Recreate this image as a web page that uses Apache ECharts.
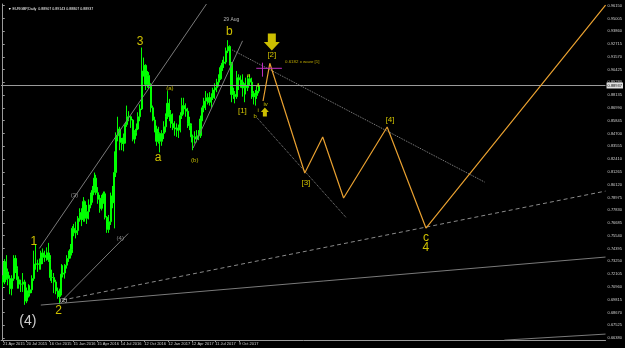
<!DOCTYPE html>
<html><head><meta charset="utf-8">
<script src="https://cdn.jsdelivr.net/npm/echarts@6/dist/echarts.min.js"></script>
<style>html,body{margin:0;padding:0;background:#000;}#c{width:625px;height:348px;}</style>
</head><body><div id="c"></div><script>
// Weekly OHLC, week 0 = 20 Apr 2015. [open, close, low, high]
const candles = [
[0.7170,0.7140,0.7090,0.7200],[0.7140,0.7320,0.7120,0.7345],[0.7320,0.7230,0.7160,0.7380],[0.7230,0.7170,0.7110,0.7260],
[0.7170,0.7080,0.7030,0.7200],[0.7080,0.7170,0.7020,0.7200],[0.7170,0.7350,0.7150,0.7380],[0.7350,0.7260,0.7220,0.7380],
[0.7260,0.7160,0.7080,0.7280],[0.7160,0.7120,0.7080,0.7190],[0.7120,0.7120,0.7050,0.7160],[0.7120,0.7140,0.7050,0.7220],
[0.7140,0.6970,0.6935,0.7160],[0.6970,0.7060,0.6950,0.7090],[0.7060,0.7040,0.7000,0.7120],[0.7040,0.7070,0.7010,0.7110],
[0.7070,0.7170,0.7040,0.7200],[0.7170,0.7300,0.7150,0.7420],[0.7300,0.7300,0.7250,0.7480],[0.7300,0.7300,0.7230,0.7340],
[0.7300,0.7300,0.7250,0.7350],[0.7300,0.7400,0.7250,0.7420],[0.7400,0.7360,0.7300,0.7440],[0.7360,0.7380,0.7320,0.7420],
[0.7380,0.7400,0.7330,0.7450],[0.7400,0.7340,0.7320,0.7490],[0.7340,0.7180,0.7150,0.7380],[0.7180,0.7180,0.7130,0.7250],
[0.7180,0.7140,0.7040,0.7220],[0.7140,0.7060,0.7030,0.7160],[0.7060,0.7010,0.6990,0.7090],[0.7010,0.7040,0.6940,0.7080],
[0.7040,0.7210,0.7020,0.7300],[0.7210,0.7220,0.7180,0.7290],[0.7220,0.7290,0.7170,0.7300],[0.7290,0.7350,0.7260,0.7380],
[0.7350,0.7380,0.7320,0.7420],[0.7380,0.7430,0.7350,0.7480],[0.7430,0.7620,0.7400,0.7640],[0.7620,0.7580,0.7550,0.7660],
[0.7580,0.7600,0.7530,0.7680],[0.7600,0.7710,0.7560,0.7730],[0.7710,0.7760,0.7680,0.7800],[0.7760,0.7700,0.7640,0.7800],
[0.7700,0.7860,0.7680,0.7900],[0.7860,0.7710,0.7680,0.7870],[0.7710,0.7770,0.7660,0.7830],[0.7770,0.7830,0.7700,0.7880],
[0.7830,0.7920,0.7800,0.7940],[0.7920,0.7960,0.7850,0.8000],[0.7960,0.8070,0.7940,0.8120],[0.8070,0.7940,0.7920,0.8100],
[0.7940,0.7880,0.7840,0.7990],[0.7880,0.7800,0.7760,0.7920],[0.7800,0.7890,0.7780,0.7920],[0.7890,0.7930,0.7840,0.7950],
[0.7930,0.7720,0.7700,0.7950],[0.7720,0.7610,0.7580,0.7730],[0.7610,0.7680,0.7580,0.7740],[0.7680,0.7910,0.7650,0.7940],
[0.7910,0.7850,0.7800,0.8000],[0.7850,0.8120,0.7620,0.8310],[0.8120,0.8450,0.8080,0.8480],[0.8450,0.8510,0.8400,0.8620],
[0.8510,0.8390,0.8320,0.8530],[0.8390,0.8380,0.8320,0.8430],[0.8380,0.8430,0.8310,0.8470],[0.8430,0.8550,0.8380,0.8570],
[0.8550,0.8620,0.8530,0.8720],[0.8620,0.8620,0.8580,0.8670],[0.8620,0.8590,0.8520,0.8630],[0.8590,0.8420,0.8400,0.8600],
[0.8420,0.8480,0.8380,0.8500],[0.8480,0.8510,0.8450,0.8560],[0.8510,0.8620,0.8500,0.8660],[0.8620,0.8690,0.8580,0.8730],
[0.8690,0.9030,0.8680,0.9240],[0.9030,0.9080,0.8980,0.9150],[0.9080,0.8910,0.8860,0.9090],[0.8910,0.8990,0.8880,0.9030],
[0.8990,0.8900,0.8870,0.9020],[0.8900,0.8700,0.8660,0.8920],[0.8700,0.8590,0.8580,0.8720],[0.8590,0.8510,0.8480,0.8620],
[0.8510,0.8400,0.8360,0.8540],[0.8400,0.8470,0.8380,0.8530],[0.8470,0.8400,0.8300,0.8480],[0.8400,0.8470,0.8360,0.8500],
[0.8470,0.8530,0.8420,0.8580],[0.8530,0.8620,0.8480,0.8650],[0.8620,0.8740,0.8600,0.8850],[0.8740,0.8640,0.8580,0.8780],
[0.8640,0.8560,0.8520,0.8680],[0.8560,0.8520,0.8500,0.8650],[0.8520,0.8510,0.8450,0.8580],[0.8510,0.8500,0.8440,0.8560],
[0.8500,0.8520,0.8430,0.8550],[0.8520,0.8630,0.8480,0.8660],[0.8630,0.8720,0.8600,0.8790],[0.8720,0.8690,0.8640,0.8790],
[0.8690,0.8670,0.8620,0.8740],[0.8670,0.8560,0.8520,0.8700],[0.8560,0.8540,0.8500,0.8620],[0.8540,0.8440,0.8390,0.8560],
[0.8440,0.8440,0.8320,0.8460],[0.8440,0.8420,0.8380,0.8490],[0.8420,0.8450,0.8390,0.8500],[0.8450,0.8450,0.8410,0.8500],
[0.8450,0.8600,0.8430,0.8630],[0.8600,0.8700,0.8580,0.8720],[0.8700,0.8760,0.8660,0.8790],[0.8760,0.8790,0.8680,0.8850],
[0.8790,0.8750,0.8730,0.8830],[0.8750,0.8790,0.8720,0.8840],[0.8790,0.8790,0.8700,0.8830],[0.8790,0.8860,0.8770,0.8880],
[0.8860,0.8880,0.8780,0.8920],[0.8880,0.8930,0.8840,0.8960],[0.8930,0.8960,0.8890,0.9000],[0.8960,0.9060,0.8950,0.9080],
[0.9060,0.9100,0.9030,0.9130],[0.9100,0.9110,0.9060,0.9160],[0.9110,0.9210,0.9090,0.9240],[0.9210,0.9250,0.9190,0.9306],
[0.9250,0.9100,0.9080,0.9260],[0.9100,0.8820,0.8750,0.9110],[0.8820,0.8820,0.8780,0.8880],[0.8820,0.8800,0.8740,0.8850],
[0.8800,0.8970,0.8780,0.9030],[0.8970,0.8950,0.8860,0.9000],[0.8950,0.8930,0.8880,0.8990],[0.8930,0.8880,0.8800,0.9000],
[0.8880,0.8900,0.8750,0.8920],[0.8900,0.8880,0.8820,0.8970],[0.8880,0.8960,0.8850,0.8990],[0.8960,0.8930,0.8900,0.9000],
[0.8930,0.8830,0.8780,0.8970],[0.8830,0.8800,0.8730,0.8850],[0.8800,0.8810,0.8720,0.8860],[0.8810,0.8850,0.8780,0.8900],
[0.8850,0.8894,0.8830,0.8920]
];
const currentPrice = 0.88937;
const titleText = '\u25BC EURGBP,Daily  0.88907 0.89143 0.88807 0.88937';
const yTicks = [0.96150,0.95005,0.93860,0.92715,0.91570,0.90425,0.89280,0.88135,0.86990,0.85845,0.84700,0.83555,0.82410,
  0.81265,0.80120,0.78975,0.77830,0.76685,0.75540,0.74395,0.73250,0.72105,0.70960,0.69815,0.68670,0.67525,0.66380];
const xTickWeeks = [0.14,13.0,25.6,38.6,51.6,64.5,77.3,90.4,103.3,116.1,129.0];
const xTickLabels = ['21 Apr 2015','20 Jul 2015','16 Oct 2015','15 Jan 2016','15 Apr 2016','14 Jul 2016','12 Oct 2016','12 Jan 2017','12 Apr 2017','11 Jul 2017','9 Oct 2017'];
// Projection path (week, price)
const projWeeks  = [142.2, 145.9, 165.0, 174.8, 186.2, 210.0, 231.2, 329.3];
const projPrices = [0.8761, 0.9099, 0.8116, 0.8438, 0.7892, 0.8528, 0.7623, 0.9621];
// trend lines: [w1,p1,w2,p2]
const dottedLines = [[125.4,0.9218,263.2,0.8035],[139.0,0.8609,187.8,0.7713]];
const dashedLines = [[32.7,0.6978,329.3,0.7954]];
const solidLines = [[20.8,0.6933,329.3,0.7363],[274.0,0.6619,329.3,0.6673],[20,0.7440,111.3,0.9630],[32.7,0.6978,68.5,0.7573],[104,0.8340,131,0.9300]];
const crossH = [[138.5,0.9054],[152.5,0.9054]];
const crossV = [[141.9,0.9104],[141.9,0.8979]];
// annotations: [text, week, price, kind]
const notes = [
 ['3',75.0,0.9290,'big'],['b',123.8,0.9379,'big'],['29 Aug',124.9,0.9487,'tiny'],['1',17.0,0.7498,'big'],
 ['2',30.5,0.6879,'big'],['(4)',13.7,0.6790,'white'],['(2)',33.2,0.6978,'smallw'],['(3)',39.2,0.7919,'smallg'],
 ['(4)',64.2,0.7533,'smallg'],['a',84.8,0.8250,'big'],['(a)',91.3,0.8877,'small'],['(b)',104.9,0.8232,'small'],
 ['[1]',130.9,0.8671,'mid'],['[2]',147.0,0.9173,'mid'],['[3]',165.6,0.8026,'mid'],['[4]',211.6,0.8591,'mid'],
 ['c',231.2,0.7533,'big'],['4',231.2,0.7444,'big'],['a',134.2,0.8994,'small'],['ii',139.5,0.8900,'small'],
 ['i',139.5,0.8680,'small'],['iv',143.6,0.8734,'small'],['b',137.9,0.8627,'small']
];
const waveNote = ['0.6182 x wave [1]',154.2,0.9110];
const downArrow = [147.0,0.9290];
const upArrow = [143.2,0.8662];

const styles = {
  big:{fontSize:12,color:'#ffee00'}, mid:{fontSize:8,color:'#ffee00'}, small:{fontSize:6,color:'#e8e000'},
  white:{fontSize:14,color:'#ffffff'}, smallw:{fontSize:6,color:'#ffffff'}, smallg:{fontSize:6,color:'#aaaaaa'},
  tiny:{fontSize:5,color:'#dddddd'}
};
const chart = echarts.init(document.getElementById('c'));
const lineSeries = (arr, type, color) => arr.map(l => ({
  type:'line', data:[[l[0],l[1]],[l[2],l[3]]], symbol:'none', silent:true, z:3,
  lineStyle:{color:color, width:1, type:type}
}));
const option = {
  backgroundColor:'#000',
  animation:false,
  title:{text:titleText, left:3, top:2, textStyle:{color:'#ffffff', fontSize:3.6, fontWeight:'normal', fontFamily:'Liberation Sans'}},
  grid:{left:0, right:16, top:4, bottom:8},
  xAxis:{type:'value', min:-0.92, max:329.3,
    axisLine:{show:true, lineStyle:{color:'#9a9a9a'}}, splitLine:{show:false},
    axisTick:{show:true, customValues:xTickWeeks, length:2, inside:false, lineStyle:{color:'#9a9a9a'}},
    axisLabel:{customValues:xTickWeeks, hideOverlap:false, showMinLabel:true,
      formatter:(v)=>{let b=0;xTickWeeks.forEach((w,i)=>{if(Math.abs(w-v)<Math.abs(xTickWeeks[b]-v))b=i;});return xTickLabels[b];},
      color:'#cfcfcf', fontSize:4, align:'left', margin:2, fontFamily:'Liberation Sans'}},
  yAxis:{type:'value', position:'right', min:0.6620, max:0.9630, scale:true,
    axisLine:{show:true, lineStyle:{color:'#9a9a9a'}}, splitLine:{show:false},
    axisTick:{show:true, customValues:yTicks, length:2, lineStyle:{color:'#9a9a9a'}},
    axisLabel:{customValues:yTicks, hideOverlap:false, formatter:(v)=>v.toFixed(5), color:'#cfcfcf', fontSize:4, margin:2, fontFamily:'Liberation Sans'}},
  series:[
    {type:'candlestick', data:candles.map((d,i)=>[i,d[0],d[1],d[2],d[3]]), encode:{x:0,y:[1,2,3,4]}, barWidth:1.7, z:2,
      itemStyle:{color:'#00ff00', color0:'#00ff00', borderColor:'#00ff00', borderColor0:'#00ff00', borderColorDoji:'#00ff00', borderWidth:1},
      markLine:{silent:true, symbol:'none', data:[{yAxis:currentPrice}], lineStyle:{color:'#9a9a9a', type:'solid', width:1},
        label:{show:true, position:'end', formatter:currentPrice.toFixed(5), fontSize:4, color:'#000', backgroundColor:'#e0e0e0', padding:[1,1], distance:1}}},
    ...lineSeries(dottedLines,'dotted','#8a8a8a'),
    ...lineSeries(dashedLines,[4,3],'#8a8a8a'),
    ...lineSeries(solidLines,'solid','#7a7a7a'),
    {type:'line', data:projWeeks.map((w,i)=>[w,projPrices[i]]), symbol:'none', z:5, lineStyle:{color:'#e8a030', width:1.2}},
    {type:'line', data:crossH, symbol:'none', z:6, lineStyle:{color:'#c030c0', width:1}},
    {type:'line', data:crossV, symbol:'none', z:6, lineStyle:{color:'#c030c0', width:1}},
    {type:'scatter', symbolSize:0, z:8, silent:true,
      data:notes.map(n=>({value:[n[1],n[2]], label:{show:true, position:'inside', formatter:n[0], fontFamily:'Liberation Sans', ...styles[n[3]]}}))},
    {type:'scatter', symbolSize:0, z:8, silent:true,
      data:[{value:[waveNote[1],waveNote[2]], label:{show:true, position:'right', distance:0, formatter:waveNote[0], fontSize:4.4, color:'#e8d000', fontFamily:'Liberation Sans'}}]},
    {type:'scatter', z:9, silent:true, symbol:'path://M4,0 L12,0 L12,9 L16,9 L8,18 L0,9 L4,9 Z', symbolSize:[16,17],
      itemStyle:{color:'#ffee00'}, data:[downArrow]},
    {type:'scatter', z:9, silent:true, symbol:'path://M8,0 L16,9 L12,9 L12,18 L4,18 L4,9 L0,9 Z', symbolSize:[8,9],
      itemStyle:{color:'#ffee00'}, data:[upArrow]}
  ]
};
chart.setOption(option);
</script></body></html>
